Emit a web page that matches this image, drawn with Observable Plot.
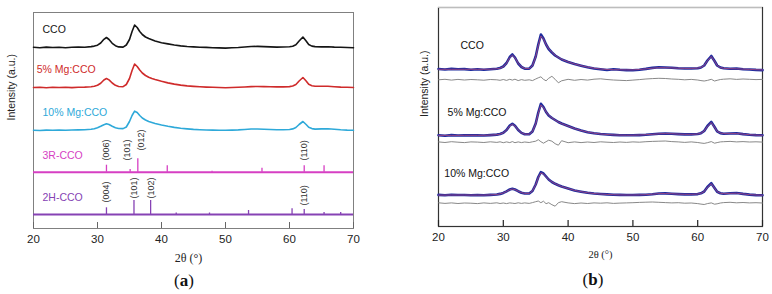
<!DOCTYPE html>
<html><head><meta charset="utf-8">
<script src="https://cdn.jsdelivr.net/npm/d3@7"></script>
<script src="https://cdn.jsdelivr.net/npm/@observablehq/plot@0.6"></script>
<style>
body{margin:0;background:#fff;}
#wrap{position:relative;width:772px;height:294px;overflow:hidden;font-family:"Liberation Sans",Arial,sans-serif;}
.panel{position:absolute;top:0;}
.cap{position:absolute;font-family:"Liberation Serif","Times New Roman",serif;font-size:17px;transform:translate(-50%,-50%);white-space:nowrap;color:#111;}
</style></head><body>
<div id="wrap">
<div id="pa" class="panel" style="left:0"></div>
<div id="pb" class="panel" style="left:390px"></div>
<div class="cap" style="left:184px;top:281px">(<b>a</b>)</div>
<div class="cap" style="left:593px;top:280px">(<b>b</b>)</div>
</div>
<script>
// ---------- shared 2θ grid (degrees) ----------
const theta = [
  20,21,22,23,24,25,26,27,28,29,
  29.5,30,30.5,31,31.4,31.8,32.3,32.8,33.3,34,34.5,35,35.4,35.8,36.2,36.6,37,37.5,38,38.5,39,
  40,41,42,43,44,45,46,47,48,49,50,51,52,53,54,55,56,57,58,59,60,
  60.5,61,61.5,62.1,62.6,63,63.5,64,
  65,66,67,68,69,70
];
const xTicks = [20,30,40,50,60,70];

// ---------- panel (a): intensity above each pattern's own baseline (a.u.) ----------
const seriesA = ["CCO","5% Mg:CCO","10% Mg:CCO"];
const offsetA = [181, 141, 98];
const cco_a = [
  0.2,-0.3,0.4,0,0.3,-0.2,0.2,0.5,0.3,0.9,
  1.4,2.3,4.5,8.2,10,8,4.2,1.8,0.6,0.4,2.5,8,16,22.5,20,16,13,10.5,9,7.8,6.5,
  4.8,3.6,2.5,1.6,1,0.6,0.3,0.1,-0.2,-0.4,-0.6,-0.3,0,0.5,1,1.1,0.9,0.6,0.4,0.5,0.8,
  1.3,2.8,6.5,10.5,6.5,3,1.4,0.9,
  0.6,0.8,0.4,0.2,0,-0.2
];
const mg5_a = [
  0,0.3,-0.2,0.2,0,0.3,-0.1,0.2,0.4,0.8,
  1.3,2.2,4.2,7.5,9,7.6,4.5,2.2,1,0.8,3,9,17,23.5,21,17.5,14.5,12,10.3,9,8,
  6.2,4.6,3.4,2.4,1.6,1.1,0.7,0.4,0.2,0,-0.2,0,0.2,0.5,0.9,1,0.9,0.7,0.6,0.6,0.9,
  1.5,3,6.5,10,6.5,3.2,1.8,1.2,
  1.2,1.3,0.8,0.4,0.2,0
];
const mg10_a = [
  0.3,0,0.4,0.2,0.5,0.3,0.5,0.6,0.8,1.2,
  1.8,2.8,4.2,5.8,6.7,6,4.3,2.8,2,1.9,3.5,9,15,19.3,18,15,12.5,10.5,9,8,7,
  5.5,4.2,3.1,2.2,1.6,1.1,0.8,0.5,0.4,0.3,0.3,0.4,0.6,1,1.5,1.5,1.3,1,0.8,0.8,1,
  1.6,3,6,9,6,3.2,1.9,1.4,
  1.6,1.8,1.2,0.7,0.4,0.3
];
// reference patterns (stick positions and relative heights)
const offset3R = 56.3, offset2H = 14;
const stick3R_theta = [31.4,35.1,36.3,40.9,47.9,55.7,62.3,65.4];
const stick3R_h     = [7,2.7,13.5,6.5,1,4,6.5,6.5];
const stick2H_theta = [31.4,35.7,38.3,42.3,47.5,53.6,60.4,62.3,65.4,68];
const stick2H_h     = [6.7,14,14,1.5,1.5,4,5.7,5,2,2];
const hkl3R = ["(006)","(101)","(012)","(110)"];
const hkl3R_theta = [31.4,34.7,36.8,62.3];
const hkl3R_at = [11.7,11.7,21.7,11.7];
const hkl2H = ["(004)","(101)","(102)","(110)"];
const hkl2H_theta = [31.4,35.7,38.4,62.3];
const hkl2H_at = [12,16,16,9];

// ---------- panel (b): measured, fitted and residual ----------
const seriesB = ["CCO","5% Mg:CCO","10% Mg:CCO"];
const offsetB = [157, 91, 31];
const offsetRes = [146.7, 84.3, 23.3];
const cco_b = [
  0.5,0,0.6,0.2,0.4,-0.2,0.3,-0.3,0.2,0.8,
  1.5,3,6.5,12.5,15,12,6,2.5,0.8,0.8,4,13,25,35,31,25,20.5,17,14,12,10,
  7.5,5.5,3.8,2.2,1,0.2,-0.5,0.2,-0.3,-0.6,-0.8,-0.2,0.6,1.6,2.2,2,1.8,1.3,1,1,1.3,
  2,4,9,13.5,8.5,4,2,1.2,
  0.8,1,0.3,0,-0.4,-0.6
];
const fit_cco_b = [
  0.2,0.2,0.2,0.2,0.2,0.2,0.2,0.2,0.3,0.7,
  1.3,2.8,6.3,12,14.3,11.8,6.2,2.6,1,0.9,3.8,12.5,24,33.5,30.5,25,20.8,17.2,14.3,12,10.2,
  7.6,5.5,3.8,2.4,1.3,0.5,0,-0.2,-0.3,-0.4,-0.4,0,0.6,1.3,1.8,1.8,1.6,1.3,1.1,1.1,1.4,
  2.1,4,8.8,13,8.4,4,2,1.2,
  0.8,0.7,0.4,0.1,-0.2,-0.4
];
const res_cco_b = [
  0,0.5,-0.3,0.4,-0.2,0.3,0,-0.4,0.3,0,
  -0.5,0.3,-0.6,0.5,-0.3,0.6,-0.8,0.2,-0.5,0,-0.8,0.8,2,3,0.5,-1,1.5,3.5,0.5,-3,-1,
  0.5,-0.5,0.3,-0.3,0.6,1,0.3,-0.2,-0.5,-0.8,-0.3,0.2,0.8,1.2,1.5,1.3,0.8,0.5,0,0.4,-0.2,
  -0.8,-1.2,-0.6,0.5,-1.2,-0.5,0.3,0.6,
  1,0.4,0.8,0.5,0.2,0.4
];
const mg5_b = [
  0.3,-0.2,0.4,0,0.3,0.1,0.2,0,0.4,0.9,
  1.5,2.8,5.5,10,11.7,9.8,5.5,2.6,1.3,1.2,4,12,23,31.7,28.5,23.5,20,17.5,15.5,13.5,12,
  9.5,7,5,3.3,2.2,1.5,1,0.6,0.3,0.2,0.2,0.4,0.7,1.2,1.8,2,1.8,1.4,1.1,1.1,1.5,
  2.3,4.5,9.5,13.6,8.5,4.2,2.4,1.8,
  2,2.2,1.4,0.8,0.4,0.2
];
const fit_mg5_b = [
  0.1,0.1,0.1,0.1,0.2,0.2,0.2,0.2,0.4,0.8,
  1.4,2.7,5.3,9.6,11.2,9.5,5.5,2.7,1.4,1.3,3.9,11.6,22.2,30.5,28,23.5,20.2,17.6,15.4,13.5,11.9,
  9.4,7,5,3.4,2.3,1.5,1,0.6,0.4,0.3,0.3,0.5,0.8,1.2,1.7,1.9,1.8,1.4,1.2,1.2,1.5,
  2.3,4.4,9.2,13,8.3,4.2,2.5,1.9,
  1.9,2,1.4,0.8,0.4,0.2
];
const res_mg5_b = [
  0.3,-0.3,0.5,0,-0.4,0.3,0.1,-0.3,0.4,-0.2,
  0.4,-0.5,0.3,-0.4,0.6,-0.5,0.3,-0.4,0.2,-0.3,0.4,1,2.5,0.5,-1,0.5,2,1,-1.5,-3,1.5,
  -0.5,0.3,-0.4,0.2,-0.3,0.4,0,-0.3,0.2,-0.2,0.3,0,0.5,0.8,1,1.2,0.6,0.3,-0.2,0.3,-0.3,
  -0.8,-1.2,-0.5,0.6,-1,-0.4,0.3,0.5,
  0.8,0.3,0.6,0.2,0.4,0.1
];
const mg10_b = [
  0.6,0.2,0.8,0.5,0.5,0.3,0.4,0.2,0.6,1,
  1.6,2.6,4.2,6,6.7,6,4.3,2.8,2,2,4.5,11,18.5,23.3,22,19,16,13.5,11.7,10.3,9,
  7,5,3.8,2.7,2,1.5,1.1,0.8,0.6,0.5,0.5,0.6,0.8,1.3,2,2.1,1.8,1.4,1.1,1.1,1.4,
  2.2,4,8.5,12.3,7.5,3.8,2.3,1.8,
  2.2,2.5,1.6,0.9,0.4,0.2
];
const fit_mg10_b = [
  0.4,0.4,0.5,0.5,0.5,0.4,0.4,0.4,0.6,1,
  1.6,2.6,4.1,5.8,6.5,5.9,4.3,2.9,2.1,2.1,4.5,10.7,18,22.6,21.6,18.8,16,13.6,11.8,10.3,9,
  7,5.1,3.8,2.8,2,1.5,1.1,0.8,0.6,0.5,0.5,0.6,0.8,1.3,1.9,2,1.8,1.4,1.2,1.2,1.5,
  2.2,3.9,8.2,11.8,7.4,3.8,2.3,1.8,
  2.1,2.3,1.6,0.9,0.5,0.3
];
const res_mg10_b = [
  0.4,-0.2,0.3,-0.3,0.2,0,-0.4,0.3,-0.2,0.4,
  -0.3,0.2,-0.4,0.3,0,-0.3,0.4,-0.2,0.3,-0.2,0.6,1.5,2.2,0.5,2,-0.5,0.5,-1.5,-3,0.5,1.5,
  0.3,-0.4,0.2,-0.3,0.3,0,0.4,-0.2,0.1,0.3,0.5,0.8,1,1.2,0.9,0.6,0.3,0.5,0,0.2,-0.4,
  -0.9,-1.3,-0.4,0.3,-1,-0.6,0.2,0.6,
  0.9,0.4,0.7,0.3,0.5,0.2
];

// label anchors (2θ, intensity) for the pattern names
const labelA_theta = [21.4, 20.5, 21.4, 21.4, 21.4];
const labelA_y = [199, 159, 116, 73, 31];
const labelA_text = ["CCO","5% Mg:CCO","10% Mg:CCO","3R-CCO","2H-CCO"];
const labelB_theta = [23.4, 21.4, 20.9];
const labelB_y = [181, 114, 53];

// ---------- build ----------
const FONT = '"Liberation Sans", Arial, sans-serif';
const rows = (vals, base) => theta.map((t, i) => ({theta: t, y: base + vals[i]}));
const colA = ["#151515", "#cf2b2b", "#2ea9d9", "#d63fc3", "#8642b4"];

// Panel (a)
const hA = 268, mTA = 12, mBA = 40;
const innerA = hA - mTA - mBA;
const sticks = (th, h, base) => th.map((t, i) => ({theta: t, y1: base, y2: base + h[i]}));
const hkls = (txt, th, at, base) => txt.map((s, i) => ({hkl: s, theta: th[i], y: base + at[i]}));
const labA = labelA_text.map((s, i) => ({s, theta: labelA_theta[i], y: labelA_y[i], c: colA[i]}));

const plotA = Plot.plot({
  width: 390, height: hA,
  marginTop: mTA, marginRight: 37, marginBottom: mBA, marginLeft: 33,
  x: {domain: [20, 70]},
  y: {domain: [0, innerA], axis: null},
  style: {fontFamily: FONT, background: "#fff", overflow: "visible"},
  marks: [
    Plot.frame({stroke: "#808080"}),
    Plot.ruleX(xTicks, {insetTop: innerA - 6, stroke: "#666"}),
    Plot.axisX(xTicks, {tickSize: 0, tickPadding: 6, fontSize: 11.5, fill: "#222", label: null}),
    Plot.line(rows(cco_a, offsetA[0]), {x: "theta", y: "y", stroke: colA[0], strokeWidth: 1.6}),
    Plot.line(rows(mg5_a, offsetA[1]), {x: "theta", y: "y", stroke: colA[1], strokeWidth: 1.6}),
    Plot.line(rows(mg10_a, offsetA[2]), {x: "theta", y: "y", stroke: colA[2], strokeWidth: 1.6}),
    Plot.ruleY([offset3R], {stroke: colA[3], strokeWidth: 2}),
    Plot.ruleY([offset2H], {stroke: colA[4], strokeWidth: 2}),
    Plot.ruleX(sticks(stick3R_theta, stick3R_h, offset3R), {x: "theta", y1: "y1", y2: "y2", stroke: colA[3], strokeWidth: 1.3}),
    Plot.ruleX(sticks(stick2H_theta, stick2H_h, offset2H), {x: "theta", y1: "y1", y2: "y2", stroke: colA[4], strokeWidth: 1.3}),
    Plot.text(hkls(hkl3R, hkl3R_theta, hkl3R_at, offset3R), {x: "theta", y: "y", text: "hkl", rotate: -90, textAnchor: "start", fontSize: 9, fill: "#333"}),
    Plot.text(hkls(hkl2H, hkl2H_theta, hkl2H_at, offset2H), {x: "theta", y: "y", text: "hkl", rotate: -90, textAnchor: "start", fontSize: 9, fill: "#333"}),
    Plot.text(labA, {x: "theta", y: "y", text: "s", fill: "c", textAnchor: "start", fontSize: 10.5}),
    Plot.text(["Intensity (a.u.)"], {frameAnchor: "left", rotate: -90, dx: -22, fontSize: 10.5, fill: "#222"}),
    Plot.text(["2θ (°)"], {frameAnchor: "bottom", lineAnchor: "middle", dy: 30, dx: -5, fontSize: 12, fill: "#222", fontFamily: '"Liberation Serif", serif'})
  ]
});
document.getElementById("pa").append(plotA);

// Panel (b)
const hB = 264, mTB = 7, mBB = 38;
const innerB = hB - mTB - mBB;
const labB = seriesB.map((s, i) => ({s, theta: labelB_theta[i], y: labelB_y[i]}));
const dataB = [cco_b, mg5_b, mg10_b], fitB = [fit_cco_b, fit_mg5_b, fit_mg10_b], resB = [res_cco_b, res_mg5_b, res_mg10_b];
const marksB = [
  Plot.frame({stroke: "#333", strokeWidth: 1.2}),
  Plot.ruleY([innerB], {stroke: "#bdbdbd", strokeWidth: 1.2}),
  Plot.ruleX(xTicks, {insetTop: innerB - 6, stroke: "#222", strokeWidth: 1.2}),
  Plot.axisX(xTicks, {tickSize: 0, tickPadding: 6, fontSize: 11.5, fill: "#222", label: null})
];
for (let i = 0; i < 3; i++) {
  marksB.push(Plot.line(rows(resB[i], offsetRes[i]), {x: "theta", y: "y", stroke: "#7a7a7a", strokeWidth: 0.9}));
  marksB.push(Plot.line(rows(dataB[i], offsetB[i]), {x: "theta", y: "y", stroke: "#1e2c9e", strokeWidth: 2.6}));
  marksB.push(Plot.line(rows(fitB[i], offsetB[i]), {x: "theta", y: "y", stroke: "#c24a7a", strokeWidth: 0.7}));
}
marksB.push(
  Plot.text(labB, {x: "theta", y: "y", text: "s", fill: "#111", textAnchor: "start", fontSize: 10.5}),
  Plot.text(["Intensity (a.u.)"], {frameAnchor: "left", rotate: -90, dx: -14, fontSize: 10.5, fill: "#222"}),
  Plot.text(["2θ (°)"], {frameAnchor: "bottom", lineAnchor: "middle", dy: 28, fontSize: 10.5, fill: "#222", fontFamily: '"Liberation Serif", serif'})
);
const plotB = Plot.plot({
  width: 382, height: hB,
  marginTop: mTB, marginRight: 10, marginBottom: mBB, marginLeft: 48,
  x: {domain: [20, 70]},
  y: {domain: [0, innerB], axis: null},
  style: {fontFamily: FONT, background: "#fff", overflow: "visible"},
  marks: marksB
});
document.getElementById("pb").append(plotB);
</script>
</body></html>
